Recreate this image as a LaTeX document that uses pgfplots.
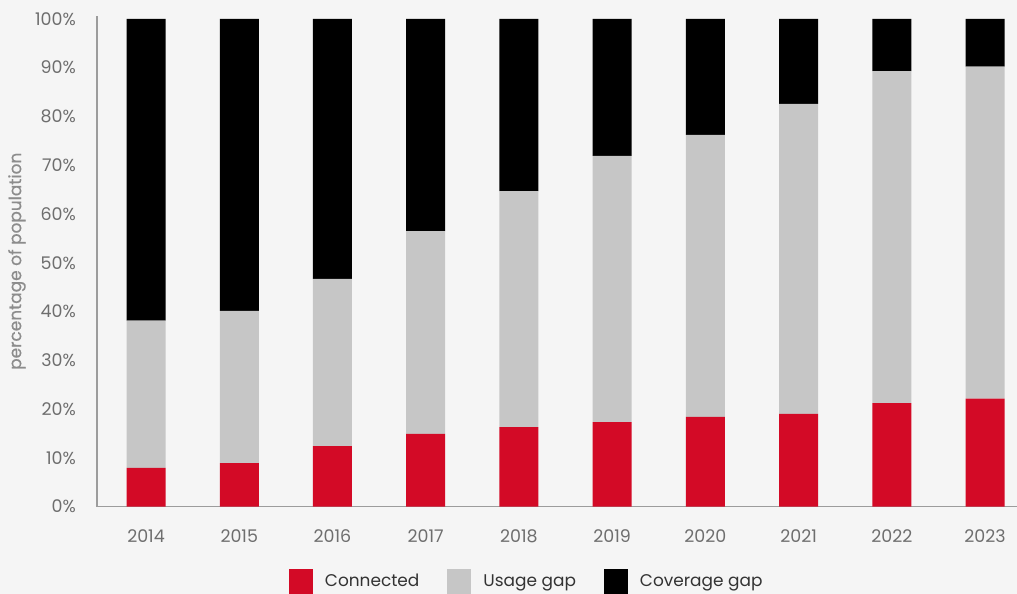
\documentclass[border=0pt]{standalone}
\usepackage{pgfplots}
\pgfplotsset{compat=1.18}
\usepackage{fontspec}
\setmainfont{Poppins}
\newfontfamily\labfont{Poppins}[FakeBold=0.6]
\definecolor{bg}{HTML}{F5F5F5}
\definecolor{cred}{HTML}{D30A26}
\definecolor{cgray}{HTML}{C6C6C6}
\definecolor{tickc}{HTML}{6E6E6E}
\definecolor{labc}{HTML}{8C8C8C}
\definecolor{axc}{HTML}{9C9C9C}
\definecolor{legt}{HTML}{333333}
\begin{document}
\begin{tikzpicture}
\fill[bg] (0,0) rectangle (1017bp,594bp);
\useasboundingbox (0,0) rectangle (1017bp,594bp);
\begin{axis}[
  at={(97bp,87.5bp)}, anchor=south west,
  scale only axis, width=920bp, height=490.5bp,
  xmin=-0.526, xmax=9.343, ymin=0, ymax=100.6,
  ybar stacked, bar width=39bp,
  axis x line*=bottom, axis y line*=left,
  axis line style={axc, line width=1.5bp},
  xtick={0,...,9},
  xticklabels={2014,2015,2016,2017,2018,2019,2020,2021,2022,2023},
  ytick={0,10,...,100},
  yticklabel={\pgfmathprintnumber{\tick}\%},
  /pgf/number format/assume math mode=true,
  major tick length=0pt,
  tick label style={font=\fontsize{17.5}{20}\selectfont, text=tickc},
  yticklabel style={inner sep=0pt, anchor=east, xshift=-21bp},
  xticklabel style={inner sep=0pt, anchor=north, yshift=-22.5bp},
  every axis y label/.style={at={(axis description cs:-0.087,0.5)}, rotate=90, anchor=center, font=\labfont\fontsize{17}{20}\selectfont, text=labc},
  ylabel={percentage of population},
  legend style={at={(axis description cs:0.466,-0.1529)}, anchor=center, draw=none, fill=none,
    font=\fontsize{17}{20}\selectfont, text=legt,
    nodes={inner sep=0pt, text height=13bp, text depth=4bp},
    /tikz/every odd column/.append style={column sep=12bp},
    /tikz/every even column/.append style={column sep=28bp}},
  legend columns=3,
  legend image code/.code={\fill[#1] (0bp,-11.5bp) rectangle (24bp,13.5bp);},
]
\addplot[fill=cred, draw=none] coordinates {(0,7.9) (1,8.9) (2,12.4) (3,14.9) (4,16.3) (5,17.3) (6,18.4) (7,19.0) (8,21.2) (9,22.1)};
\addplot[fill=cgray, draw=none] coordinates {(0,30.2) (1,31.2) (2,34.3) (3,41.6) (4,48.4) (5,54.6) (6,57.8) (7,63.6) (8,68.1) (9,68.1)};
\addplot[fill=black, draw=none] coordinates {(0,61.9) (1,59.9) (2,53.3) (3,43.5) (4,35.3) (5,28.1) (6,23.8) (7,17.4) (8,10.7) (9,9.8)};
\legend{Connected, Usage gap, Coverage gap}
\end{axis}
\end{tikzpicture}
\end{document}
